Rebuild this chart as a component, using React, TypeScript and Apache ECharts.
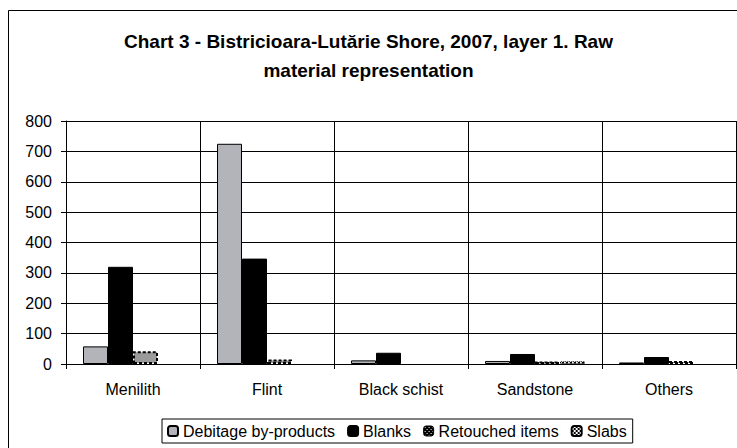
import React, { useEffect, useRef } from "react";
import * as echarts from "echarts";

// Raw material categories and counts per artefact group
const categories = ["Menilith", "Flint", "Black schist", "Sandstone", "Others"];
const debitage = [58, 725, 12, 10, 5];
const blanks = [320, 347, 37, 33, 23];
const retouched = [42, 15, 0, 8, 10];
const slabs = [0, 0, 0, 9, 0];
const seriesNames = ["Debitage by-products", "Blanks", "Retouched items", "Slabs"];
const yTicks = { min: 0, max: 800, interval: 100 };

const FONT = "'Liberation Sans', Arial, sans-serif";

function makePattern(draw: (ctx: CanvasRenderingContext2D) => void, size: number) {
  const c = document.createElement("canvas");
  c.width = size;
  c.height = size;
  const ctx = c.getContext("2d")!;
  draw(ctx);
  return c;
}

// zero counts are left empty so no outline is drawn on the axis
const nonZero = (values: number[]) => values.map((v) => (v === 0 ? null : v));

export default function App() {
  const ref = useRef<HTMLDivElement>(null);

  useEffect(() => {
    if (!ref.current) return;
    const chart = echarts.init(ref.current, undefined, { renderer: "svg" });

    const slabTile = makePattern((ctx) => {
      ctx.fillStyle = "#ffffff";
      ctx.fillRect(0, 0, 4, 4);
      ctx.fillStyle = "#000000";
      ctx.fillRect(0, 0, 2, 2);
      ctx.fillRect(2, 2, 2, 2);
    }, 4);

    const confettiTile = makePattern((ctx) => {
      ctx.fillStyle = "#000000";
      ctx.fillRect(0, 0, 4, 4);
      ctx.fillStyle = "#ffffff";
      ctx.fillRect(1, 1, 1, 1);
      ctx.fillRect(3, 3, 1, 1);
    }, 4);

    const bar = (name: string, data: number[], itemStyle: any) => ({
      name,
      type: "bar",
      data: nonZero(data),
      barWidth: 25,
      barGap: "0%",
      itemStyle,
    });

    chart.setOption({
      animation: false,
      title: {
        text: "Chart 3 - Bistricioara-Lutărie Shore, 2007, layer 1. Raw\nmaterial representation",
        left: "center",
        top: 22,
        textStyle: {
          fontFamily: FONT,
          fontSize: 19,
          fontWeight: "bold",
          color: "#000",
          lineHeight: 29,
        },
      },
      graphic: [
        {
          type: "rect",
          shape: { x: 8.5, y: 10.5, width: 740, height: 450 },
          style: { fill: "none", stroke: "#000", lineWidth: 1 },
          silent: true,
        },
      ],
      legend: {
        data: [
          { name: seriesNames[0] },
          { name: seriesNames[1] },
          {
            name: seriesNames[2],
            itemStyle: {
              color: { image: confettiTile, repeat: "repeat" },
              borderColor: "#000",
              borderWidth: 1,
              borderType: "solid",
            },
          },
          { name: seriesNames[3] },
        ],
        left: 162,
        top: 419,
        orient: "horizontal",
        padding: [4, 6, 4, 5],
        borderColor: "#000",
        borderWidth: 1,
        itemWidth: 10,
        itemHeight: 10,
        itemGap: 12,
        textStyle: { fontFamily: FONT, fontSize: 16, color: "#000" },
      },
      grid: { left: 66, right: 1, top: 121, bottom: 84 },
      xAxis: {
        type: "category",
        data: categories,
        axisLine: { show: true, lineStyle: { color: "#000", width: 1 } },
        axisTick: { show: true, length: 5, lineStyle: { color: "#000" } },
        splitLine: { show: true, lineStyle: { color: "#000", width: 1 } },
        axisLabel: { fontFamily: FONT, fontSize: 16, color: "#000", margin: 17 },
      },
      yAxis: {
        type: "value",
        min: yTicks.min,
        max: yTicks.max,
        interval: yTicks.interval,
        axisLine: { show: true, lineStyle: { color: "#000", width: 1 } },
        axisTick: { show: true, length: 5, lineStyle: { color: "#000" } },
        splitLine: { show: true, lineStyle: { color: "#000", width: 1 } },
        axisLabel: { fontFamily: FONT, fontSize: 16, color: "#000", margin: 14 },
      },
      series: [
        bar(seriesNames[0], debitage, { color: "#b3b4b9", borderColor: "#000", borderWidth: 1 }),
        bar(seriesNames[1], blanks, { color: "#000", borderColor: "#000", borderWidth: 1 }),
        bar(seriesNames[2], retouched, {
          color: "#9a9a9a",
          borderColor: "#000",
          borderWidth: 2,
          borderType: [3, 2],
        }),
        bar(seriesNames[3], slabs, {
          color: { image: slabTile, repeat: "repeat" },
          borderColor: "#000",
          borderWidth: 1,
          borderType: "dotted",
        }),
      ],
    });

    return () => chart.dispose();
  }, []);

  return (
    <div
      ref={ref}
      style={{ position: "absolute", left: 0, top: 0, width: 737, height: 448, background: "#fff" }}
    />
  );
}
